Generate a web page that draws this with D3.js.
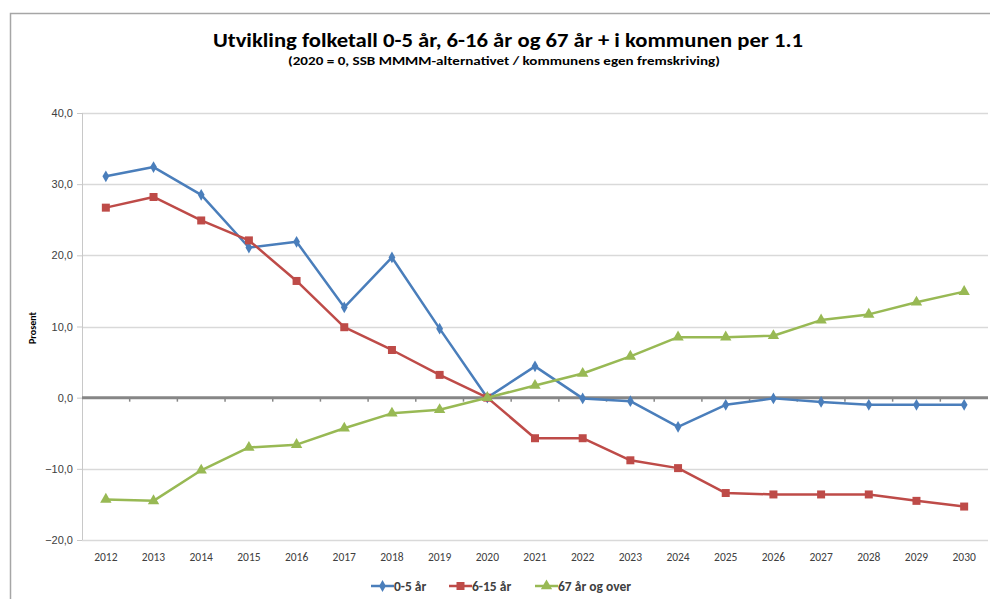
<!DOCTYPE html>
<html>
<head>
<meta charset="utf-8">
<script src="https://cdn.jsdelivr.net/npm/d3@7"></script>
<style>
  body { margin: 0; background: #fff; }
  svg { display: block; font-family: Carlito, Calibri, "Liberation Sans Narrow", Lato, sans-serif; }
</style>
</head>
<body>
<script>
var years = [2012, 2013, 2014, 2015, 2016, 2017, 2018, 2019, 2020, 2021,
             2022, 2023, 2024, 2025, 2026, 2027, 2028, 2029, 2030];
var yTicks = [-20, -10, 0, 10, 20, 30, 40];
var seriesNames = ["0-5 år", "6-15 år", "67 år og over"];
var age0to5 = [31.1, 32.4, 28.5, 21.1, 21.9, 12.7, 19.7, 9.7, 0, 4.4,
               -0.1, -0.5, -4.1, -1.0, -0.1, -0.6, -1.0, -1.0, -1.0];
var age6to15 = [26.7, 28.2, 24.9, 22.1, 16.4, 9.9, 6.7, 3.2, 0, -5.7,
                -5.7, -8.8, -9.9, -13.4, -13.6, -13.6, -13.6, -14.5, -15.3];
var age67plus = [-14.3, -14.5, -10.2, -7.0, -6.6, -4.3, -2.2, -1.7, 0, 1.7,
                 3.4, 5.8, 8.5, 8.5, 8.7, 10.9, 11.7, 13.4, 14.9];

var colors = ["#4a7ebb", "#be4b48", "#98b954"];
var symbols = [d3.symbolDiamond, d3.symbolSquare, d3.symbolTriangle];
var symSize = [40, 64, 56];

var W = 990, H = 599;
var m = { t: 113, r: 2, b: 59, l: 82 };
var width = W - m.l - m.r,
    height = H - m.t - m.b;

var svg = d3.select("body").append("svg")
  .attr("width", W)
  .attr("height", H);

// outer chart frame
svg.append("path")
  .attr("d", "M10.5," + H + " V13.5 H" + W)
  .attr("fill", "none")
  .attr("stroke", "#a6a6a6")
  .attr("stroke-width", 1.5);

svg.append("text")
  .attr("x", 508)
  .attr("y", 47)
  .attr("text-anchor", "middle")
  .attr("textLength", 590)
  .attr("lengthAdjust", "spacingAndGlyphs")
  .style("font-size", "20px")
  .style("font-weight", "bold")
  .text("Utvikling folketall 0-5 år, 6-16 år og 67 år + i kommunen per 1.1");

svg.append("text")
  .attr("x", 504)
  .attr("y", 65)
  .attr("text-anchor", "middle")
  .attr("textLength", 432)
  .attr("lengthAdjust", "spacingAndGlyphs")
  .style("font-size", "11px")
  .style("font-weight", "bold")
  .text("(2020 = 0, SSB MMMM-alternativet / kommunens egen fremskriving)");

var g = svg.append("g")
  .attr("transform", "translate(" + m.l + "," + m.t + ")");

var x = d3.scaleBand().domain(years).range([0, width]);
var y = d3.scaleLinear().domain([-20, 40]).range([height, 0]);
var fmt = function(v) { return d3.format(".1f")(v).replace(".", ","); };

// gridlines
g.append("g")
  .selectAll("line")
  .data(yTicks.filter(function(d) { return d !== 0; }))
  .enter().append("line")
  .attr("x1", 0)
  .attr("x2", width)
  .attr("y1", function(d) { return Math.round(y(d)) + 0.5; })
  .attr("y2", function(d) { return Math.round(y(d)) + 0.5; })
  .attr("stroke", "#d9d9d9")
  .attr("stroke-width", 1.5);

// y axis
var yAxis = g.append("g")
  .call(d3.axisLeft(y).tickValues(yTicks).tickFormat(fmt).tickSize(5).tickPadding(4));
yAxis.select(".domain").attr("stroke", "#c8c8c8").attr("d", "M0.5,0V" + height);
yAxis.selectAll(".tick line").attr("stroke", "#c8c8c8");
yAxis.selectAll("text").style("font-size", "11px").attr("fill", "#404040");

// x axis on the zero line
var xAxis = g.append("g")
  .attr("transform", "translate(0," + y(0) + ")")
  .call(d3.axisBottom(x).tickSize(0).tickFormat(""));
xAxis.select(".domain").attr("stroke", "#868686").attr("stroke-width", 3).attr("d", "M0,0H" + width);
xAxis.selectAll(".bound")
  .data(years.slice(1))
  .enter().append("line")
  .attr("class", "bound")
  .attr("x1", function(d) { return x(d); })
  .attr("x2", function(d) { return x(d); })
  .attr("y1", 0)
  .attr("y2", 4)
  .attr("stroke", "#868686")
  .attr("stroke-width", 1.5);

// year labels below the plot
g.append("g")
  .selectAll("text")
  .data(years)
  .enter().append("text")
  .attr("x", function(d) { return x(d) + x.bandwidth() / 2; })
  .attr("y", height + 21)
  .attr("text-anchor", "middle")
  .attr("fill", "#404040")
  .style("font-size", "11.5px")
  .text(function(d) { return d; });

svg.append("text")
  .attr("transform", "translate(36,328) rotate(-90)")
  .attr("text-anchor", "middle")
  .style("font-size", "10px")
  .style("font-weight", "bold")
  .text("Prosent");

var series = [age0to5, age6to15, age67plus];
var line = d3.line()
  .x(function(d, i) { return x(years[i]) + x.bandwidth() / 2; })
  .y(function(d) { return y(d); });

series.forEach(function(vals, s) {
  g.append("path")
    .datum(vals)
    .attr("d", line)
    .attr("fill", "none")
    .attr("stroke", colors[s])
    .attr("stroke-width", 2.5)
    .attr("stroke-linejoin", "round");
  g.selectAll(".pt" + s)
    .data(vals)
    .enter().append("path")
    .attr("class", "pt" + s)
    .attr("transform", function(d, i) {
      return "translate(" + (x(years[i]) + x.bandwidth() / 2) + "," + y(d) + ")";
    })
    .attr("d", d3.symbol().type(symbols[s]).size(symSize[s]))
    .attr("fill", colors[s]);
});

// legend
var legX = [371, 449, 535];
var legend = svg.selectAll(".legend")
  .data(seriesNames)
  .enter().append("g")
  .attr("class", "legend")
  .attr("transform", function(d, i) { return "translate(" + legX[i] + ",586)"; });

legend.append("line")
  .attr("x1", 0).attr("x2", 23)
  .attr("stroke", function(d, i) { return colors[i]; })
  .attr("stroke-width", 2.5);
legend.append("path")
  .attr("transform", "translate(11.5,0)")
  .attr("d", function(d, i) { return d3.symbol().type(symbols[i]).size(symSize[i])(); })
  .attr("fill", function(d, i) { return colors[i]; });
legend.append("text")
  .attr("x", 23)
  .attr("dy", "0.35em")
  .style("font-size", "13.5px")
  .style("font-weight", "bold")
  .attr("fill", "#404040")
  .text(function(d) { return d; });
</script>
</body>
</html>
